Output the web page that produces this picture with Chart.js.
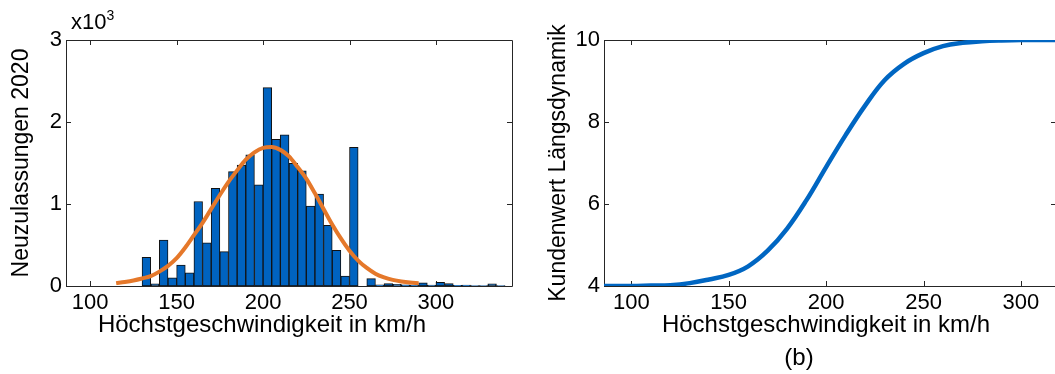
<!DOCTYPE html>
<html>
<head>
<meta charset="utf-8">
<script src="https://cdn.jsdelivr.net/npm/chart.js@4.4.1/dist/chart.umd.min.js"></script>
<style>
  body { margin: 0; background: #fff; overflow: hidden; width: 1055px; height: 374px; position: relative; }
  canvas { position: absolute; top: 0; }
  #leftChart { left: 0; }
  #rightChart { left: 540px; }
  .lbl { position: absolute; font-family: 'Liberation Sans', Arial, sans-serif; color: #000; white-space: nowrap; line-height: 24px; font-size: 24px; }
</style>
</head>
<body>
<canvas id="leftChart" width="540" height="374"></canvas>
<canvas id="rightChart" width="520" height="374"></canvas>
<div class="lbl" style="left:71px; top:10px; font-size:22px;">x10<span style="font-size:14px; position:relative; top:-9px;">3</span></div>
<div class="lbl" style="left:62px; width:400px; text-align:center; top:312px;">Höchstgeschwindigkeit in km/h</div>
<div class="lbl" style="left:626px; width:400px; text-align:center; top:312px;">Höchstgeschwindigkeit in km/h</div>
<div class="lbl" style="left:759px; width:80px; text-align:center; top:345px;">(b)</div>
<script>
// histogram of new registrations, 5 km/h bins (left edge of each bin)
const binStarts = [130, 135, 140, 145, 150, 155, 160, 165, 170, 175, 180, 185, 190, 195,
                   200, 205, 210, 215, 220, 225, 230, 235, 240, 245, 250, 255, 260, 265,
                   270, 275, 280, 285, 290, 295, 300, 305, 310, 315, 320, 325, 330, 335];
const registrations = [350, 25, 560, 100, 255, 160, 1030, 525, 1190, 420, 1395, 1475, 1600, 1235,
                       2420, 1790, 1845, 1495, 1405, 975, 1120, 740, 435, 120, 1690, 0, 90, 15,
                       30, 20, 15, 10, 40, 12, 45, 30, 8, 10, 5, 5, 25, 5];
const binWidth = 5;

// fitted distribution (orange)
const fitSpeed = [115, 120, 125, 130, 135, 140, 145, 150, 155, 160, 165, 170, 175, 180, 185, 190,
                  195, 200, 205, 210, 215, 220, 225, 230, 235, 240, 245, 250, 255, 260, 265, 270,
                  275, 280, 285, 290];
const fitValue = [35, 50, 68, 92, 120, 175, 245, 340, 470, 620, 770, 940, 1110, 1270, 1410, 1540,
                  1630, 1685, 1695, 1660, 1580, 1450, 1310, 1130, 940, 750, 580, 430, 310, 220, 150, 105,
                  75, 55, 42, 35];

// customer value curve (right)
const valueSpeed = [86, 100, 110, 120, 130, 140, 150, 160, 170, 180, 190, 200, 210, 220, 230, 240,
                    250, 260, 270, 280, 290, 300, 318];
const customerValue = [4.0, 4.0, 4.01, 4.02, 4.07, 4.16, 4.27, 4.48, 4.86, 5.40, 6.10, 6.90, 7.68, 8.40, 9.02, 9.42,
                       9.68, 9.85, 9.93, 9.97, 9.99, 10.0, 10.0];

const xTicks = [100, 150, 200, 250, 300];
const leftYTicks = [0, 1000, 2000, 3000];
const rightYTicks = [4, 6, 8, 10];

const FONT = "'Liberation Sans', Arial, sans-serif";
Chart.defaults.font.family = FONT;
Chart.defaults.font.size = 22;
Chart.defaults.color = '#000';
Chart.defaults.animation = false;

// MATLAB-like box with inward ticks on all four sides
const boxPlugin = {
    id: 'box',
    beforeDatasetsDraw(chart) {
        const {ctx, chartArea: a, scales: {x, y}} = chart;
        ctx.save();
        ctx.strokeStyle = '#262626';
        ctx.lineWidth = 1;
        ctx.beginPath();
        ctx.rect(a.left + 0.5, a.top + 0.5, a.right - a.left, a.bottom - a.top);
        x.ticks.forEach(t => {
            const px = Math.round(x.getPixelForValue(t.value)) + 0.5;
            ctx.moveTo(px, a.bottom); ctx.lineTo(px, a.bottom - 5);
            ctx.moveTo(px, a.top); ctx.lineTo(px, a.top + 5);
        });
        y.ticks.forEach(t => {
            const py = Math.round(y.getPixelForValue(t.value)) + 0.5;
            ctx.moveTo(a.left, py); ctx.lineTo(a.left + 5, py);
            ctx.moveTo(a.right, py); ctx.lineTo(a.right - 5, py);
        });
        ctx.stroke();
        ctx.restore();
    }
};

function xAxis(min, max) {
    return {
        type: 'linear', min: min, max: max, offset: false,
        grid: {display: false, drawTicks: false}, border: {display: false},
        ticks: {padding: 4, maxRotation: 0},
        afterBuildTicks: s => { s.ticks = xTicks.map(v => ({value: v})); },
        afterFit: s => { s.height = 88; }
    };
}

new Chart(document.getElementById('leftChart'), {
    type: 'bar',
    data: {
        datasets: [{
            type: 'line',
            order: 0,
            data: fitSpeed.map((v, i) => ({x: v, y: fitValue[i]})),
            borderColor: '#E5782A',
            borderWidth: 4,
            pointRadius: 0,
            cubicInterpolationMode: 'monotone'
        }, {
            type: 'bar',
            order: 1,
            data: binStarts.map((v, i) => ({x: v + binWidth / 2, y: registrations[i]})),
            backgroundColor: '#0063C0',
            borderColor: '#111',
            borderWidth: 1,
            borderSkipped: false,
            barPercentage: 1,
            categoryPercentage: 1
        }]
    },
    options: {
        responsive: false,
        layout: {padding: {top: 40, right: 28, left: 0, bottom: 0}},
        plugins: {legend: {display: false}, tooltip: {enabled: false}},
        scales: {
            x: xAxis(86, 344),
            y: {
                min: 0, max: 3000,
                grid: {display: false, drawTicks: false}, border: {display: false},
                ticks: {padding: 4, callback: v => v / 1000},
                afterBuildTicks: s => { s.ticks = leftYTicks.map(v => ({value: v})); },
                afterFit: s => { s.width = 66; },
                title: {display: true, text: 'Neuzulassungen 2020', font: {size: 23}, padding: {top: 8}}
            }
        }
    },
    plugins: [boxPlugin]
});

new Chart(document.getElementById('rightChart'), {
    type: 'line',
    data: {
        datasets: [{
            data: valueSpeed.map((v, i) => ({x: v, y: customerValue[i]})),
            borderColor: '#0066C2',
            borderWidth: 4.5,
            pointRadius: 0,
            tension: 0.4
        }]
    },
    options: {
        responsive: false,
        layout: {padding: {top: 40, right: 4, left: 0, bottom: 0}},
        plugins: {legend: {display: false}, tooltip: {enabled: false}},
        scales: {
            x: xAxis(86, 318),
            y: {
                min: 4, max: 10,
                grid: {display: false, drawTicks: false}, border: {display: false},
                ticks: {padding: 4},
                afterBuildTicks: s => { s.ticks = rightYTicks.map(v => ({value: v})); },
                afterFit: s => { s.width = 64; },
                title: {display: true, text: 'Kundenwert Längsdynamik', font: {size: 23}, padding: {top: 5}}
            }
        }
    },
    plugins: [boxPlugin]
});
</script>
</body>
</html>
